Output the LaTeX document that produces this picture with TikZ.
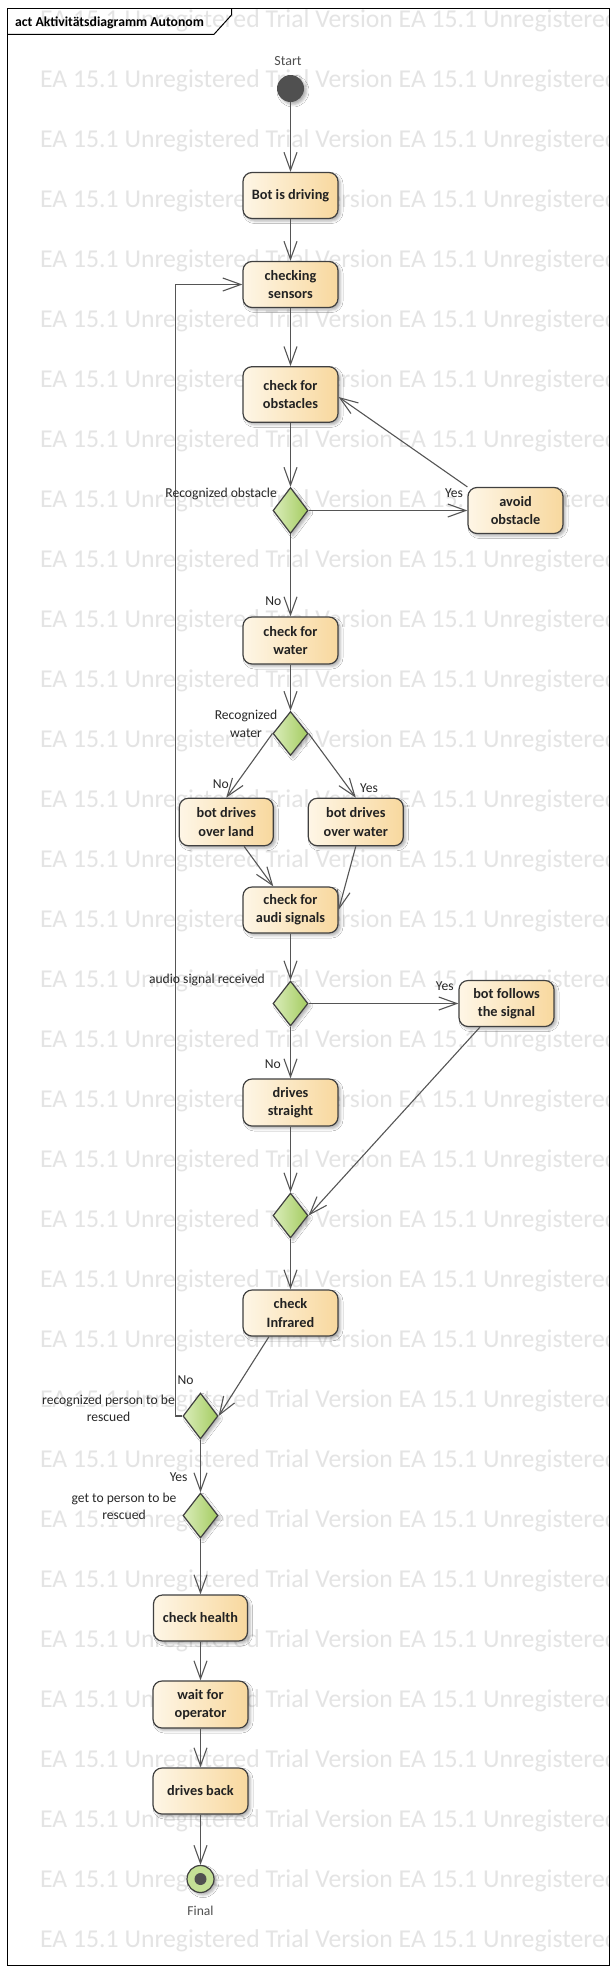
\documentclass[tikz,border=0pt]{standalone}
\usepackage{fontspec}
\setmainfont{Carlito}
\usetikzlibrary{shapes.geometric, arrows.meta, shadows.blur, calc}

\definecolor{nl}{RGB}{254,246,230}
\definecolor{nr}{RGB}{248,216,158}
\definecolor{dl}{RGB}{218,236,186}
\definecolor{dr}{RGB}{164,204,96}
\definecolor{bd}{RGB}{64,64,64}
\definecolor{ln}{RGB}{85,85,85}
\definecolor{txt}{RGB}{34,34,34}
\definecolor{lbltxt}{RGB}{40,40,40}
\definecolor{wmc}{RGB}{228,228,228}
\definecolor{startc}{RGB}{80,80,80}
\definecolor{finc}{RGB}{196,224,150}

\newcommand\nodefnt{\fontsize{14.3}{18.3}\selectfont\bfseries}
\newcommand\lblfnt{\fontsize{13.6}{17.3}\selectfont}
\newcommand\wmfnt{\fontsize{25.7}{30}\selectfont}
\newcommand\titlefnt{\fontsize{13.7}{16}\selectfont\bfseries}

\tikzset{
  shad/.style={blur shadow={shadow xshift=2.5pt, shadow yshift=-2.5pt, shadow blur radius=2.5pt, shadow opacity=30}},
  act/.style={rectangle, rounded corners=9pt, draw=bd, line width=1.2pt,
    left color=nl, right color=nr, minimum width=95pt, minimum height=46pt,
    inner sep=0pt, align=center, font=\nodefnt, text=txt, shad},
  dec/.style={diamond, draw=bd, line width=1.2pt, left color=dl, right color=dr,
    minimum width=35pt, minimum height=46pt, inner sep=0pt, shad},
  flow/.style={draw=ln, line width=1.1pt, -{Straight Barb[length=18pt,width=13pt]}},
  lbl/.style={font=\lblfnt, text=lbltxt, inner sep=0pt},
  wm/.style={font=\wmfnt, text=wmc, inner sep=0pt},
}

\begin{document}
\begin{tikzpicture}[x=1pt,y=-1pt]
\useasboundingbox (0,0) rectangle (614,1973);
\fill[white] (0,0) rectangle (614,1973);

% watermark
\begin{scope}
\clip (7.5,8.5) rectangle (609,1965);
\foreach \k in {0,...,32}{
  \node[wm, anchor=base west] (wm\k) at (40,{27.3+60*\k}) {EA 15.1 Unregistered Trial Version EA 15.1 Unregistered};
}
\end{scope}

% frame
\draw[black, line width=1pt] (7.5,8.5) rectangle (609,1965);
\draw[black, line width=1pt] (7.5,34.3) -- (214,34.3) -- (231.5,15) -- (231.5,8.5);
\node[anchor=base west, font=\titlefnt, text=black, inner sep=0pt] (title) at (15,26) {act Aktivitätsdiagramm Autonom};

% nodes
\node[circle, fill=startc, minimum size=27pt, inner sep=0pt, shad] (start) at (290.5,88.5) {};
\node[lbl, text=startc] (startlbl) at (288,61) {\fontsize{14}{17}\selectfont Start};

\node[act] (bot) at (290.5,195.5) {Bot is driving};
\node[act] (sens) at (290.5,284.5) {checking\\sensors};
\node[act, minimum height=55.6pt] (obst) at (290.5,394.5) {check for\\obstacles};
\node[dec] (odia) at (290.5,510.5) {};
\node[act] (avoid) at (515.5,510.5) {avoid\\obstacle};
\node[act, minimum height=47pt] (water) at (290.5,640.5) {check for\\water};
\node[dec, minimum height=44pt] (wdia) at (290.5,733.5) {};
\node[act, minimum width=94pt, minimum height=47.5pt] (land) at (226.3,822) {bot drives\\over land};
\node[act, minimum height=47.5pt] (wb) at (355.8,822) {bot drives\\over water};
\node[act] (audi) at (290.5,910) {check for\\audi signals};
\node[dec, minimum height=45pt] (adia) at (290.5,1003.5) {};
\node[act] (follow) at (506.5,1003.5) {bot follows\\the signal};
\node[act, minimum height=47pt] (straight) at (290.5,1102.5) {drives\\straight};
\node[dec, minimum height=45pt] (merge) at (290.5,1215.5) {};
\node[act] (infra) at (290.5,1313) {check\\Infrared};
\node[dec] (person) at (200.5,1416) {};
\node[dec, minimum height=45pt] (getto) at (200.5,1515.5) {};
\node[act, minimum width=94pt] (health) at (200.5,1618) {check health};
\node[act, minimum height=47pt] (wait) at (200.5,1704.5) {wait for\\operator};
\node[act] (back) at (200.5,1791) {drives back};
\node[circle, draw=bd, line width=1.2pt, fill=finc, minimum size=27pt, inner sep=0pt, shad] (final) at (200.5,1879) {};
\node[circle, fill=startc, minimum size=12pt, inner sep=0pt] (finaldot) at (final.center) {};
\node[lbl, text=startc] (finallbl) at (200.5,1910.7) {Final};

% connectors
\draw[flow] (start) -- (bot);
\draw[flow] (bot) -- (sens);
\draw[flow] (sens) -- (obst);
\draw[flow] (obst) -- (odia);
\draw[flow] (odia) -- (avoid);
\draw[flow] (avoid.north west) -- ($(obst.east)+(0,2.5)$);
\draw[flow] (odia) -- (water);
\draw[flow] (water) -- (wdia);
\draw[flow] (wdia.west) -- (land.north);
\draw[flow] (wdia.east) -- (wb.north);
\draw[flow] (land) -- (audi);
\draw[flow] (wb.south) -- (audi.east);
\draw[flow] (audi) -- (adia);
\draw[flow] (adia) -- (follow);
\draw[flow] (adia) -- (straight);
\draw[flow] (straight) -- (merge);
\draw[flow] ([xshift=-26.5pt]follow.south) -- (merge.east);
\draw[flow] (merge) -- (infra);
\draw[flow] ([xshift=-21.5pt]infra.south) -- (person.east);
\coordinate (loopc) at (175.5,1416);
\draw[flow] (person.west) -- (loopc) |- (sens.west);
\draw[flow] (person) -- (getto);
\draw[flow] (getto) -- (health);
\draw[flow] (health) -- (wait);
\draw[flow] (wait) -- (back);
\draw[flow] (back) -- (final);

% labels
\node[lbl, anchor=base east] (l1) at (277,497) {Recognized obstacle};
\node[lbl, anchor=base west] (l2) at (445,497) {Yes};
\node[lbl, anchor=base east] (l3) at (281.5,605) {No};
\node[lbl, align=center] (l4) at (246,723.8) {Recognized\\water};
\node[lbl, anchor=base west] (l5) at (212.7,788) {No};
\node[lbl, anchor=base west] (l6) at (360,792) {Yes};
\node[lbl, anchor=base east] (l7) at (265,983) {audio signal received};
\node[lbl, anchor=base west] (l8) at (435.7,990.7) {Yes};
\node[lbl, anchor=base east] (l9) at (281,1068.3) {No};
\node[lbl, anchor=base west, fill=white, inner sep=1.5pt] (l10) at (176,1384) {No};
\node[lbl, align=center] (l11) at (108.5,1408.5) {recognized person to be\\rescued};
\node[lbl, anchor=base west] (l12) at (169.6,1481.7) {Yes};
\node[lbl, align=center] (l13) at (124,1506.5) {get to person to be\\rescued};
\end{tikzpicture}
\end{document}
